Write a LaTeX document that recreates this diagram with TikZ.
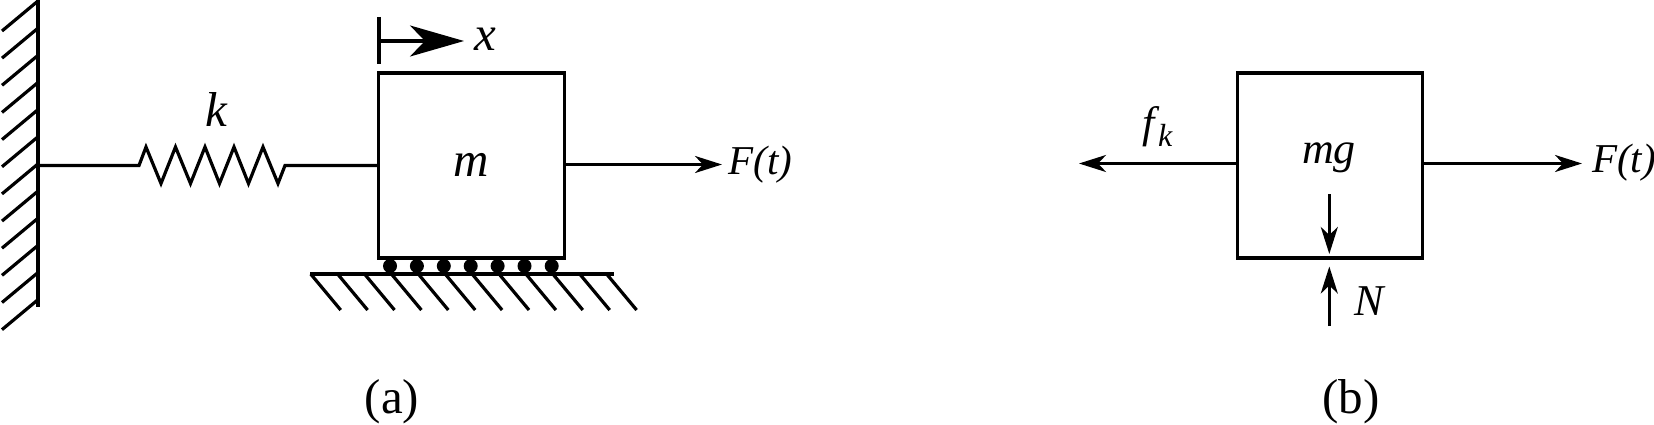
\documentclass[tikz,border=0pt]{standalone}
\usepackage{fontspec}
\setmainfont{Liberation Serif}
\usetikzlibrary{arrows.meta}
\tikzset{
  wline/.style={line width=3.2pt,black},
  force/.style={line width=3pt,black,-{Stealth[length=27pt,width=17pt,inset=8pt]}},
  massbox/.style={draw,line width=3.2pt,minimum width=185.5pt,minimum height=185pt,inner sep=0pt,outer sep=0pt},
  lab/.style={inner sep=0pt,outer sep=0pt,font=\fontsize{41}{48}\selectfont\itshape},
  biglab/.style={inner sep=0pt,outer sep=0pt,font=\fontsize{49}{56}\selectfont\itshape},
  captext/.style={inner sep=0pt,outer sep=0pt,font=\fontsize{49}{56}\selectfont}
}
\begin{document}
\begin{tikzpicture}[x=1pt,y=-1pt]
\useasboundingbox (0,0) rectangle (1654,425);
% wall
\coordinate (wallTop) at (38,0);
\coordinate (wallBot) at (38,307);
\coordinate (wallPt) at (38,165.5);
\draw[wline] (wallTop) -- (wallBot);
\foreach \i in {0,...,11} \draw[wline] (38,{1+27.15*\i}) -- (2,{31+27.15*\i});
% mass a
\node[massbox] (massA) at (471.5,165.5) {};
\node[biglab] (mLab) at (471,165) {m};
% spring
\coordinate (sL) at (139,165.5);
\coordinate (sR) at (285,165.5);
\draw[wline,line join=miter] (wallPt) -- (sL) -- (146,147) -- (161,183.5) -- (175.5,147) -- (190.5,183.5) -- (205,147)
  -- (219.5,183.5) -- (234,147) -- (248.5,183.5) -- (263,147) -- (278,183.5) -- (sR) -- (massA.west);
\node[biglab] (kLab) at (216,110) {k};
% displacement marker
\coordinate (xTop) at (379,17);
\coordinate (xBot) at (379,64.5);
\coordinate (xStart) at (379,41);
\coordinate (xTip) at (464,41);
\draw[wline] (xTop) -- (xBot);
\draw[wline,-{Stealth[length=54pt,width=31pt,inset=15pt]}] (xStart) -- (xTip);
\node[biglab] (xLab) at (485.5,39) {x};
% force a
\coordinate (fATip) at (722,164.5);
\draw[force] (massA.east |- fATip) -- (fATip);
\node[lab,anchor=west] (fALab) at (728.5,165) {F(t)};
% ground
\coordinate (gL) at (310,274);
\coordinate (gR) at (614,274);
\draw[wline] (gL) -- (gR);
\foreach \i in {0,...,11} \draw[wline] ({310.7+26.9*\i},274) -- ({340.7+26.9*\i},310);
\foreach \x in {390,416.9,443.8,470.7,497.6,524.5,551.7} \fill (\x,266) circle (7);
\node[captext] (capA) at (392,402) {(a)};
% mass b
\node[massbox] (massB) at (1330,165.5) {};
\node[biglab,font=\fontsize{44}{50}\selectfont\itshape] (mgLab) at (1329,158) {mg};
\coordinate (fkTip) at (1079,163.5);
\draw[force] (massB.west |- fkTip) -- (fkTip);
\node[lab,anchor=base west,font=\fontsize{44}{50}\selectfont\itshape] (fkLab) at (1142,138) {f\kern4pt\raisebox{-9pt}{\fontsize{32}{34}\selectfont k}};
\coordinate (fBTip) at (1582,163.5);
\draw[force] (massB.east |- fBTip) -- (fBTip);
\node[lab,anchor=west] (fBLab) at (1592,163) {F(t)};
\coordinate (nTopS) at (1329.3,194);
\coordinate (nTopT) at (1329.3,254);
\coordinate (nBotS) at (1329.3,326);
\coordinate (nBotT) at (1329.3,266.5);
\draw[force] (nTopS) -- (nTopT);
\draw[force] (nBotS) -- (nBotT);
\node[lab,font=\fontsize{44}{50}\selectfont\itshape] (nLab) at (1369,301.5) {N};
\node[captext] (capB) at (1351,402) {(b)};
\end{tikzpicture}
\end{document}
